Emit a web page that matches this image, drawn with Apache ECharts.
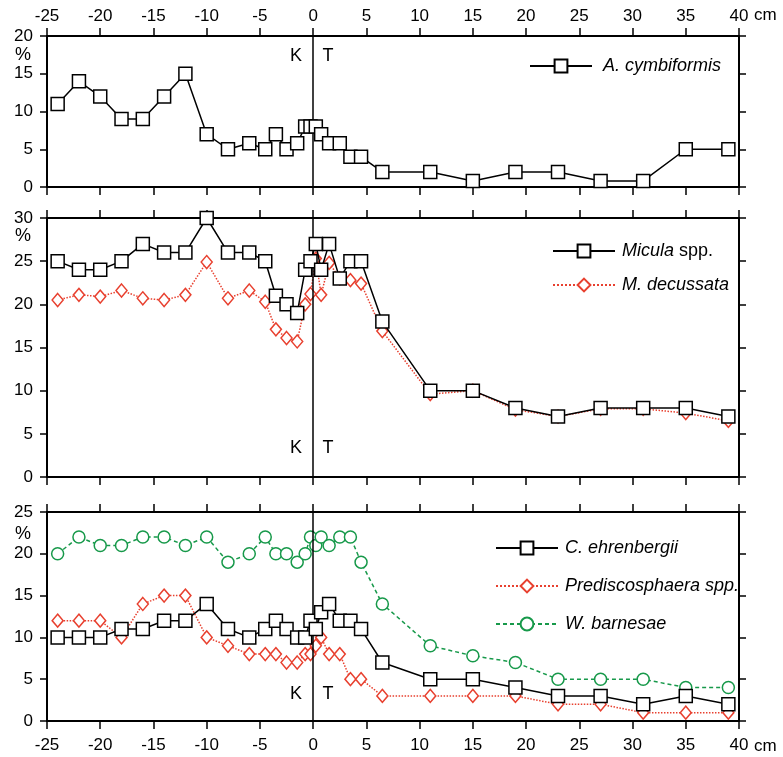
<!DOCTYPE html>
<html>
<head>
<meta charset="utf-8">
<script src="https://cdn.jsdelivr.net/npm/echarts@6.0.0/dist/echarts.min.js"></script>
<style>
  html, body { margin: 0; padding: 0; background: #fff; }
  #main { width: 783px; height: 757px; }
</style>
</head>
<body>
<div id="main"></div>
<script>
// depth in cm relative to the K/T boundary
var depth = [-24, -22, -20, -18, -16, -14, -12, -10, -8, -6, -4.5, -3.5, -2.5, -1.5, -0.75, -0.25,
             0.25, 0.75, 1.5, 2.5, 3.5, 4.5, 6.5, 11, 15, 19, 23, 27, 31, 35, 39];

// panel 1
var aCymb = [11, 14, 12, 9, 9, 12, 15, 7, 5, 5.8, 5, 7, 5, 5.8, 8, 8,
             8, 7, 5.8, 5.8, 4, 4, 2, 2, 0.8, 2, 2, 0.8, 0.8, 5, 5];
// panel 2
var micula = [25, 24, 24, 25, 27, 26, 26, 30, 26, 26, 25, 21, 20, 19, 24, 25,
              27, 24, 27, 23, 25, 25, 18, 10, 10, 8, 7, 8, 8, 8, 7];
var mDecus = [20.5, 21.1, 20.9, 21.6, 20.7, 20.5, 21.1, 24.9, 20.7, 21.6, 20.3, 17.1, 16.1, 15.7, 20, 21.2,
              25.3, 21.1, 24.8, 23, 22.8, 22.4, 16.9, 9.6, 10, 7.8, 7, 7.9, 7.9, 7.4, 6.5];
// panel 3
var cEhren = [10, 10, 10, 11, 11, 12, 12, 14, 11, 10, 11, 12, 11, 10, 10, 12,
              11, 13, 14, 12, 12, 11, 7, 5, 5, 4, 3, 3, 2, 3, 2];
var predis = [12, 12, 12, 10, 14, 15, 15, 10, 9, 8, 8, 8, 7, 7, 8, 8,
              9, 10, 8, 8, 5, 5, 3, 3, 3, 3, 2, 2, 1, 1, 1];
var wBarn = [20, 22, 21, 21, 22, 22, 21, 22, 19, 20, 22, 20, 20, 19, 20, 22,
             21, 22, 21, 22, 22, 19, 14, 9, 7.8, 7, 5, 5, 5, 4, 4];

var yMax = [20, 30, 25];
var xMin = -25, xMax = 40;

var RED = '#e8402f';
var GREEN = '#17994a';
var FONT = '"Liberation Sans", Arial, Helvetica, sans-serif';

function pairs(ys) {
    return depth.map(function (d, i) { return [d, ys[i]]; });
}

var grids = [
    {left: 47, right: 44, top: 36, height: 151},
    {left: 47, right: 44, top: 218, height: 259},
    {left: 47, right: 44, top: 512, height: 209}
];

var xAxes = [];
var yAxes = [];
grids.forEach(function (g, i) {
    // bottom axis, then top axis
    ['bottom', 'top'].forEach(function (pos) {
        var showLab = (i == 0 && pos == 'top') || (i == 2 && pos == 'bottom');
        xAxes.push({
            type: 'value', gridIndex: i, position: pos,
            min: xMin, max: xMax, interval: 5,
            splitLine: {show: false},
            axisLine: {onZero: false, lineStyle: {color: '#000', width: 2}},
            axisTick: {inside: false, length: 8, lineStyle: {color: '#000', width: 1.5}},
            axisLabel: {show: showLab, color: '#000', fontSize: 17, fontFamily: FONT,
                        margin: pos == 'top' ? 11 : 16}
        });
    });
    ['left', 'right'].forEach(function (pos) {
        yAxes.push({
            type: 'value', gridIndex: i, position: pos,
            min: 0, max: yMax[i], interval: 5,
            splitLine: {show: false},
            axisLine: {onZero: false, lineStyle: {color: '#000', width: 2}},
            axisTick: {inside: false, length: 7, lineStyle: {color: '#000', width: 1.5}},
            axisLabel: {show: pos == 'left', color: '#000', fontSize: 17, fontFamily: FONT, margin: 14}
        });
    });
});

var kt = {
    data: [{xAxis: 0}],
    symbol: ['none', 'none'],
    silent: true,
    label: {show: false},
    lineStyle: {color: '#000', width: 1.5, type: 'solid'}
};

function squareSeries(name, ys, grid) {
    return {
        name: name, type: 'line', xAxisIndex: grid * 2, yAxisIndex: grid * 2,
        data: pairs(ys), z: 5,
        symbol: 'rect', symbolSize: 13,
        itemStyle: {color: '#fff', borderColor: '#000', borderWidth: 1.5},
        lineStyle: {color: '#000', width: 1.5, type: 'solid'}
    };
}
function diamondSeries(name, ys, grid) {
    return {
        name: name, type: 'line', xAxisIndex: grid * 2, yAxisIndex: grid * 2,
        data: pairs(ys), z: 3,
        symbol: 'diamond', symbolSize: [11, 13],
        itemStyle: {color: '#fff', borderColor: RED, borderWidth: 1.5},
        lineStyle: {color: RED, width: 1.5, type: 'dotted'}
    };
}
function circleSeries(name, ys, grid) {
    return {
        name: name, type: 'line', xAxisIndex: grid * 2, yAxisIndex: grid * 2,
        data: pairs(ys), z: 4,
        symbol: 'circle', symbolSize: 12,
        itemStyle: {color: '#fff', borderColor: GREEN, borderWidth: 1.5},
        lineStyle: {color: GREEN, width: 1.5, type: [4, 3]}
    };
}

var s0 = squareSeries('A. cymbiformis', aCymb, 0);
s0.markLine = kt;
var s1 = diamondSeries('M. decussata', mDecus, 1);
s1.markLine = kt;
var s2 = squareSeries('Micula spp.', micula, 1);
var s3 = circleSeries('W. barnesae', wBarn, 2);
s3.markLine = kt;
var s4 = diamondSeries('Prediscosphaera spp.', predis, 2);
var s5 = squareSeries('C. ehrenbergii', cEhren, 2);

function legendFor(names, left, top, gap, textGap) {
    return {
        data: names, orient: 'vertical', left: left, top: top,
        padding: 0,
        itemWidth: 62, itemHeight: 16, itemGap: gap,
        selectedMode: false,
        formatter: function (name) {
            if (name == 'Micula spp.') return '{i|Micula} {n|spp.}';
            return '{i|' + name + '}';
        },
        textStyle: {
            color: '#000', fontSize: 18, fontFamily: FONT,
            padding: [0, 0, 0, textGap],
            rich: {
                i: {fontStyle: 'italic', fontSize: 18, fontFamily: FONT, color: '#000'},
                n: {fontSize: 18, fontFamily: FONT, color: '#000'}
            }
        }
    };
}

var myChart = echarts.init(document.getElementById('main'), null, {renderer: 'canvas'});
var option = {
    backgroundColor: '#fff',
    animation: false,
    grid: grids,
    xAxis: xAxes,
    yAxis: yAxes,
    legend: [
        legendFor(['A. cymbiformis'], 529, 57, 16, 6),
        legendFor(['Micula spp.', 'M. decussata'], 552, 242, 16, 2),
        legendFor(['C. ehrenbergii', 'Prediscosphaera spp.', 'W. barnesae'], 495, 539, 20, 2)
    ],
    series: [s0, s1, s2, s3, s4, s5]
};
myChart.setOption(option);

// K / T, % and cm labels
var ktY = [17.3, 3.4, 3.2];
var pctY = [55, 236, 534];
var texts = [];
function txt(x, y, s, align) {
    texts.push({
        type: 'text', x: x, y: y,
        style: {text: s, fill: '#000', font: '18px ' + FONT, align: align || 'center', verticalAlign: 'middle'}
    });
}
for (var g = 0; g < 3; g++) {
    var pk = myChart.convertToPixel({xAxisIndex: g * 2, yAxisIndex: g * 2}, [-1.6, ktY[g]]);
    var pt = myChart.convertToPixel({xAxisIndex: g * 2, yAxisIndex: g * 2}, [1.4, ktY[g]]);
    txt(pk[0], pk[1], 'K');
    txt(pt[0], pt[1], 'T');
    txt(23, pctY[g], '%');
}
texts.push({type: 'text', x: 754, y: 15, style: {text: 'cm', fill: '#000', font: '17px ' + FONT, verticalAlign: 'middle'}});
texts.push({type: 'text', x: 754, y: 746, style: {text: 'cm', fill: '#000', font: '17px ' + FONT, verticalAlign: 'middle'}});
myChart.setOption({graphic: texts});
</script>
</body>
</html>
